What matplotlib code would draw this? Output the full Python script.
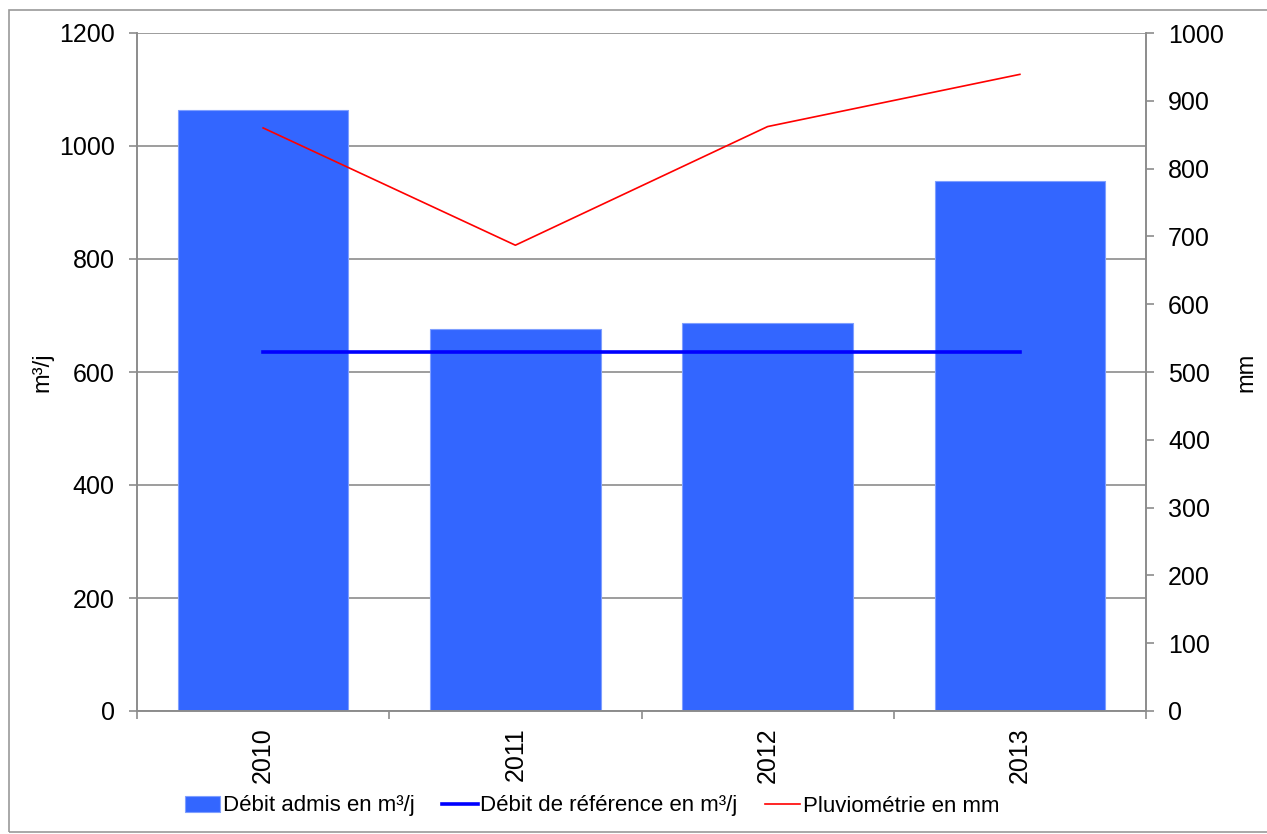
import matplotlib
matplotlib.use("Agg")
import matplotlib.pyplot as plt
import numpy as np
from matplotlib.patches import Rectangle

plt.rcParams['font.family'] = ['Liberation Sans', 'DejaVu Sans']

years = ['2010', '2011', '2012', '2013']
debit_admis = [1063, 676, 687, 938]
debit_reference = [635, 635, 635, 635]
pluviometrie = [860, 687, 862, 939]

fig = plt.figure(figsize=(12.67, 8.34), dpi=100)
fig.patches.append(Rectangle((9/1267, 1 - 832/834), 1258/1267 - 9/1267 + 0.01, 822/834,
                             transform=fig.transFigure, fill=False,
                             edgecolor='#999999', linewidth=1.2, zorder=0))

ax = fig.add_axes([137/1267, 1 - 711/834, (1146 - 137)/1267, (711 - 33)/834])
x = np.arange(len(years))

bars = ax.bar(x, debit_admis, width=0.675, color='#3366FF', edgecolor='#7F9FFF',
              linewidth=0.8, zorder=2, label='Débit admis en m³/j')
ref_line, = ax.plot(x, debit_reference, color='#0000FF', linewidth=2.6, zorder=3,
                    label='Débit de référence en m³/j')

ax.set_xlim(-0.5, len(years) - 0.5)
ax.set_ylim(0, 1200)
ax.set_yticks(np.arange(0, 1201, 200))
ax.yaxis.grid(True, color='#8C8C8C', linewidth=1.2, zorder=0)
ax.set_axisbelow(True)
ax.set_xticks(np.arange(-0.5, len(years), 1.0))
ax.set_xticklabels([])
ax.set_xticks(x, minor=True)
ax.set_xticklabels(years, minor=True, rotation=90, fontsize=18)
ax.tick_params(axis='x', which='minor', length=0, pad=12)
ax.tick_params(axis='x', which='major', length=6, color='#8C8C8C', width=1.2, direction='out')
ax.tick_params(axis='y', length=6, color='#8C8C8C', width=1.2, direction='out',
               labelsize=18, pad=10)
ax.spines['top'].set_visible(False)
for side in ['left', 'bottom', 'right']:
    ax.spines[side].set_color('#8C8C8C')
    ax.spines[side].set_linewidth(1.2)
ax.set_ylabel('m³/j', fontsize=17, labelpad=4)

ax2 = ax.twinx()
rain_line, = ax2.plot(x, pluviometrie, color='#FF0000', linewidth=1.2, zorder=4,
                      label='Pluviométrie en mm')
ax2.set_ylim(0, 1000)
ax2.set_yticks(np.arange(0, 1001, 100))
ax2.tick_params(axis='y', length=6, color='#8C8C8C', width=1.2, direction='out',
                labelsize=18, pad=10)
ax2.spines['top'].set_visible(False)
for side in ['left', 'bottom', 'right']:
    ax2.spines[side].set_color('#8C8C8C')
    ax2.spines[side].set_linewidth(1.2)
ax2.set_ylabel('mm', fontsize=17, labelpad=8)

fig.legend([bars, ref_line, rain_line],
           ['Débit admis en m³/j', 'Débit de référence en m³/j', 'Pluviométrie en mm'],
           loc='center', bbox_to_anchor=(592/1267, 1 - 806/834),
           ncol=3, frameon=False, fontsize=16, handlelength=1.6, handletextpad=0.1,
           columnspacing=1.25)

fig.savefig('out.png', dpi=100)
